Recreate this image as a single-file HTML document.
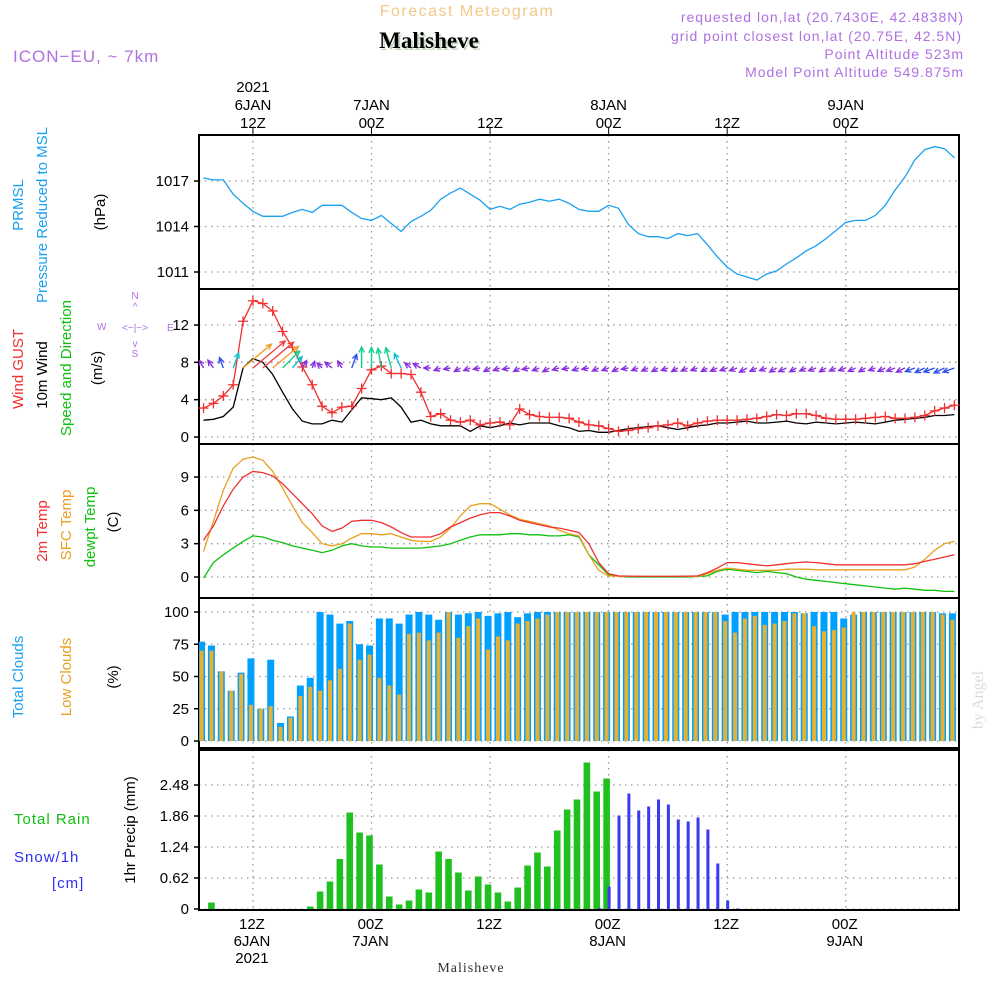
<!DOCTYPE html>
<html><head><meta charset="utf-8"><style>
html,body{margin:0;padding:0;background:#fff;}
svg{display:block;font-family:"Liberation Sans",sans-serif;}
</style></head><body>
<svg id="chart" width="1000" height="1000" viewBox="0 0 1000 1000">
<g>
<text x="467" y="16" text-anchor="middle" font-size="16" fill="#f5c88a" letter-spacing="1.5">Forecast Meteogram</text>
<text x="431" y="50" text-anchor="middle" font-size="23" font-weight="bold" font-family="Liberation Serif,serif" fill="#c8d8c0">Malisheve</text>
<text x="429" y="48" text-anchor="middle" font-size="23" font-weight="bold" font-family="Liberation Serif,serif" fill="#000">Malisheve</text>
<text x="13" y="62" font-size="17" fill="#b070e0" letter-spacing="1">ICON−EU, ~ 7km</text>
<g fill="#b070e0" font-size="14" text-anchor="end" letter-spacing="1">
<text x="964" y="22">requested lon,lat (20.7430E, 42.4838N)</text>
<text x="962" y="41">grid point closest lon,lat (20.75E, 42.5N)</text>
<text x="964" y="59">Point Altitude 523m</text>
<text x="964" y="77">Model Point Altitude 549.875m</text>
</g>
</g>
<g id="axes"></g>
<g id="marks"></g>
<g font-size="15">
<text transform="translate(23,205) rotate(-90)" text-anchor="middle" fill="#1aa0f0">PRMSL</text>
<text transform="translate(47,215) rotate(-90)" text-anchor="middle" fill="#1aa0f0">Pressure Reduced to MSL</text>
<text transform="translate(105,212) rotate(-90)" text-anchor="middle" fill="#000">(hPa)</text>
<text transform="translate(23,369) rotate(-90)" text-anchor="middle" fill="#f03030">Wind GUST</text>
<text transform="translate(47,375) rotate(-90)" text-anchor="middle" fill="#000">10m Wind</text>
<text transform="translate(71,368) rotate(-90)" text-anchor="middle" fill="#10c010">Speed and Direction</text>
<text transform="translate(102,368) rotate(-90)" text-anchor="middle" fill="#000">(m/s)</text>
<text transform="translate(47,531) rotate(-90)" text-anchor="middle" fill="#f03030">2m Temp</text>
<text transform="translate(71,525) rotate(-90)" text-anchor="middle" fill="#e8a020">SFC Temp</text>
<text transform="translate(95,527) rotate(-90)" text-anchor="middle" fill="#10c010">dewpt Temp</text>
<text transform="translate(118,522) rotate(-90)" text-anchor="middle" fill="#000">(C)</text>
<text transform="translate(23,677) rotate(-90)" text-anchor="middle" fill="#1aa0f0">Total Clouds</text>
<text transform="translate(71,677) rotate(-90)" text-anchor="middle" fill="#e8a020">Low Clouds</text>
<text transform="translate(118,677) rotate(-90)" text-anchor="middle" fill="#000">(%)</text>
<text x="14" y="824" fill="#10c010" letter-spacing="1">Total  Rain</text>
<text x="14" y="862" fill="#3030f0" letter-spacing="1">Snow/1h</text>
<text x="52" y="888" fill="#3030f0" letter-spacing="1">[cm]</text>
<text transform="translate(135,830) rotate(-90)" text-anchor="middle" fill="#000">1hr Precip (mm)</text>
<g fill="#b070e0" font-size="10">
<text x="135" y="299" text-anchor="middle">N</text><text x="135" y="310" text-anchor="middle">^</text>
<text x="135" y="331" text-anchor="middle">&lt;−|−&gt;</text>
<text x="97" y="330">W</text><text x="167" y="331">E</text>
<text x="135" y="347" text-anchor="middle">v</text><text x="135" y="357" text-anchor="middle">S</text>
</g>
<text transform="translate(983,700) rotate(-90)" text-anchor="middle" fill="#d8dcd8" font-family="Liberation Serif,serif" font-size="16">by Angel</text>
<text x="471" y="972" text-anchor="middle" font-family="Liberation Serif,serif" font-size="14" fill="#333" letter-spacing="1">Malisheve</text>
</g>
</svg>
<script>
const hours = [];
for (let h = -17; h <= 59; h++) hours.push(h);
const pressure = [1017.2,1017.07,1017.07,1016.13,1015.53,1015.0,1014.67,1014.67,1014.67,1014.93,1015.13,1014.93,1015.4,1015.4,1015.4,1014.93,1014.53,1014.4,1014.73,1014.2,1013.67,1014.33,1014.67,1015.07,1015.8,1016.2,1016.53,1016.13,1015.73,1015.13,1015.33,1015.13,1015.47,1015.6,1015.8,1015.67,1015.8,1015.53,1015.13,1015.0,1015.0,1015.4,1015.2,1014.13,1013.53,1013.33,1013.33,1013.2,1013.53,1013.4,1013.53,1012.8,1012.0,1011.33,1010.87,1010.67,1010.47,1010.87,1011.07,1011.53,1011.93,1012.4,1012.73,1013.2,1013.73,1014.27,1014.4,1014.4,1014.73,1015.4,1016.4,1017.27,1018.4,1019.07,1019.27,1019.13,1018.53];
const gust = [3.1,3.6,4.4,5.6,12.4,14.6,14.3,13.5,11.3,9.6,7.5,5.6,3.3,2.6,3.2,3.3,5.2,7.2,7.6,6.8,6.8,6.7,4.8,2.2,2.5,1.8,1.6,1.8,1.3,1.5,1.6,1.3,3.0,2.4,2.2,2.1,2.1,2.0,1.6,1.3,1.2,0.9,0.6,0.7,0.9,1.0,1.2,1.3,1.5,1.2,1.5,1.7,1.8,1.8,1.8,1.9,2.0,2.2,2.4,2.3,2.5,2.5,2.3,2.0,1.9,1.9,1.9,2.0,2.1,2.2,2.0,2.0,2.1,2.3,2.8,3.1,3.4];
const wind10 = [1.8,1.9,2.2,3.2,7.4,8.4,8.0,6.7,4.8,3.0,1.7,1.4,1.4,1.8,1.6,2.9,4.2,4.1,4.0,4.2,3.2,1.6,1.8,1.4,1.2,1.2,1.2,0.6,1.2,1.0,1.2,1.5,1.3,1.5,1.5,1.5,1.2,1.0,0.6,0.7,0.5,0.5,0.7,0.9,1.0,1.1,1.2,1.0,0.8,1.0,1.2,1.3,1.5,1.5,1.6,1.7,1.5,1.5,1.6,1.7,1.5,1.4,1.6,1.5,1.4,1.5,1.6,1.5,1.4,1.6,1.8,1.9,2.0,2.1,2.3,2.3,2.4];
const windDir = [-30,-35,-20,20,50,50,50,50,45,40,30,20,-45,-50,-30,20,0,0,-10,-15,-25,-50,-60,-90,-110,-100,-120,-110,-100,-120,-110,-100,-120,-100,-110,-120,-105,-100,-110,-100,-115,-110,-120,-100,-110,-115,-120,-110,-120,-115,-110,-120,-115,-110,-110,-120,-115,-110,-120,-115,-120,-115,-110,-120,-115,-110,-115,-120,-110,-115,-110,-115,-110,-115,-110,-115,-110];
const temp2m = [3.3,4.6,6.4,7.9,9.0,9.5,9.4,9.1,8.4,7.5,6.6,5.7,4.6,4.1,4.4,5.0,5.1,5.1,4.9,4.5,4.0,3.6,3.6,3.6,3.9,4.5,4.9,5.3,5.6,5.8,5.8,5.5,5.1,4.9,4.7,4.5,4.4,4.2,4.0,3.0,1.3,0.3,0.1,0.08,0.06,0.05,0.05,0.05,0.06,0.08,0.1,0.4,0.8,1.3,1.3,1.2,1.1,1.0,1.1,1.2,1.3,1.35,1.3,1.2,1.1,1.1,1.1,1.1,1.1,1.1,1.1,1.1,1.2,1.4,1.6,1.8,2.0];
const sfcTemp = [2.3,5.0,7.8,9.8,10.6,10.8,10.5,9.5,8.0,6.4,4.9,4.0,3.0,2.8,3.0,3.5,3.9,3.9,3.8,3.9,3.6,3.3,3.2,3.2,3.6,4.4,5.5,6.4,6.6,6.6,6.1,5.6,5.2,5.0,4.8,4.6,4.2,3.9,3.7,2.0,0.6,0.1,0.05,0.05,0.05,0.05,0.05,0.05,0.05,0.05,0.05,0.3,0.6,0.8,0.7,0.6,0.6,0.6,0.6,0.7,0.7,0.7,0.65,0.65,0.65,0.65,0.65,0.65,0.65,0.65,0.65,0.65,0.9,1.6,2.4,3.0,3.2];
const dewpt = [-0.1,1.3,2.0,2.6,3.2,3.7,3.6,3.3,3.1,2.8,2.6,2.4,2.2,2.4,2.8,3.0,2.8,2.7,2.7,2.6,2.6,2.6,2.6,2.7,2.8,3.0,3.3,3.6,3.8,3.8,3.8,3.9,3.9,3.8,3.8,3.7,3.7,3.8,3.6,2.0,1.1,0.2,0.05,0.0,0.0,0.0,0.0,0.0,0.0,0.0,0.05,0.1,0.5,0.7,0.6,0.5,0.4,0.5,0.4,0.3,0.0,-0.2,-0.3,-0.4,-0.5,-0.6,-0.7,-0.8,-0.9,-1.0,-1.1,-1.0,-1.1,-1.2,-1.2,-1.3,-1.3];
const totalClouds = [77,74,54,39,53,64,25,63,14,19,43,49,100,98,91,93,75,74,95,95,91,98,100,98,94,100,98,99,100,97,99,100,96,99,100,100,100,100,100,100,100,100,100,100,100,100,100,100,100,100,100,100,100,98,100,100,100,100,100,100,100,99,100,100,100,95,98,100,100,100,100,100,100,100,100,99,99];
const lowClouds = [70,70,54,39,52,28,25,27,11,18,35,42,39,47,56,91,63,67,49,43,36,83,84,78,84,100,80,89,95,71,81,78,91,93,95,98,100,100,100,100,100,100,100,100,100,100,100,100,100,100,100,100,100,93,84,95,97,90,91,93,99,99,89,85,86,88,100,100,100,100,100,100,100,100,100,98,94];
const rain = [0,0.13,0,0,0,0,0,0,0,0,0,0.05,0.35,0.55,1.0,1.93,1.53,1.47,0.89,0.25,0.09,0.17,0.39,0.33,1.15,1.0,0.73,0.37,0.65,0.49,0.33,0.15,0.43,0.87,1.13,0.85,1.57,1.99,2.19,2.93,2.35,2.61,0,0,0,0,0,0,0,0,0,0,0,0,0,0,0,0,0,0,0,0,0,0,0,0,0,0,0,0,0,0,0,0,0,0,0];
const snow = [0,0,0,0,0,0,0,0,0,0,0,0,0,0,0,0,0,0,0,0,0,0,0,0,0,0,0,0,0,0,0,0,0,0,0,0,0,0,0,0,0.02,0.45,1.87,2.31,1.97,2.05,2.19,2.09,1.79,1.75,1.83,1.59,0.91,0.17,0.01,0,0,0,0,0,0,0,0,0,0,0,0,0,0,0,0,0,0,0,0,0,0];
const pressTicks = [1011,1014,1017];
const windTicks = [0,4,8,12];
const tempTicks = [0,3,6,9];
const cloudTicks = [0,25,50,75,100];
const precipTicks = [0,0.62,1.24,1.86,2.48];
const timeTickHours = [-12,0,12,24,36,48];
const topTickLabels = [["2021","6JAN","12Z"],["","7JAN","00Z"],["","","12Z"],["","8JAN","00Z"],["","","12Z"],["","9JAN","00Z"]];
const bottomTickLabels = [["12Z","6JAN","2021"],["00Z","7JAN",""],["12Z","",""],["00Z","8JAN",""],["12Z","",""],["00Z","9JAN",""]];

const NS="http://www.w3.org/2000/svg";
const L=199,R=959;
const X=h=>371.5+9.88*h;
function lin(d0,d1,p0,p1){return v=>p0+(v-d0)*(p1-p0)/(d1-d0);}
const panels=[
 {name:'pressure',top:135,bot:289,y:lin(1011,1017,272,181),ticks:pressTicks,fmt:v=>v},
 {name:'wind',top:289,bot:444,y:lin(0,12,437,325),ticks:windTicks,fmt:v=>v},
 {name:'temp',top:444,bot:598,y:lin(0,9,577,477),ticks:tempTicks,fmt:v=>v},
 {name:'clouds',top:598,bot:748,y:lin(0,100,741,612),ticks:cloudTicks,fmt:v=>v},
 {name:'precip',top:750,bot:910,y:lin(0,2.48,909,785),ticks:precipTicks,fmt:v=>v}
];
const axes=document.getElementById('axes'),marks=document.getElementById('marks');
function mk(tag,attrs,parent){const e=document.createElementNS(NS,tag);for(const k in attrs)e.setAttribute(k,attrs[k]);parent.appendChild(e);return e;}

panels.forEach(p=>{
 const g=mk('g',{},axes);
 
 
 timeTickHours.forEach(h=>{
  const l=mk('line',{x1:X(h),x2:X(h),y1:p.top,y2:p.bot,stroke:'#999','stroke-width':1.3,'stroke-dasharray':'1.5,4.5'},g);
  
  
 });
 p.ticks.forEach(v=>{
  const yy=p.y(v);
  const l=mk('line',{x1:L,x2:R,y1:yy,y2:yy,stroke:'#999','stroke-width':1.3,'stroke-dasharray':'1.5,4.5'},g);
  
  
  mk('line',{x1:L-5,x2:L,y1:yy,y2:yy,stroke:'#000','stroke-width':1.5},g);
  const t=mk('text',{x:L-10,y:yy+5,'text-anchor':'end','font-size':15,fill:'#000'},g);
  t.textContent=p.fmt(v);
  
  
 });
 const b=mk('rect',{x:L,y:p.top,width:R-L,height:p.bot-p.top,fill:'none',stroke:'#000','stroke-width':2},g);
 
 
});
timeTickHours.forEach((h,i)=>{
 mk('line',{x1:X(h),x2:X(h),y1:128,y2:135,stroke:'#000'},axes);
 topTickLabels[i].forEach((s,j)=>{ if(!s)return;
  const t=mk('text',{x:X(h),y:92+j*18,'text-anchor':'middle','font-size':15,fill:'#000'},axes);
  t.textContent=s;
  
  
 });
 bottomTickLabels[i].forEach((s,j)=>{ if(!s)return;
  const t=mk('text',{x:X(h)-1,y:929+j*17,'text-anchor':'middle','font-size':15,fill:'#000'},axes);
  t.textContent=s;
  
  
 });
});

function line(arr,p,color,name,w){
 const d=arr.map((v,i)=>(i?'L':'M')+X(hours[i]).toFixed(1)+','+p.y(v).toFixed(1)).join('');
 const e=mk('path',{d:d,fill:'none',stroke:color,'stroke-width':w||1.3},marks);
 
 
 return e;
}
const clip=mk('clipPath',{id:'plotclip'},marks);mk('rect',{x:L,y:0,width:R-L,height:1000},clip);
// pressure
line(pressure,panels[0],'#1aa0f0','pressure-line');
// wind
const pw=panels[1];
line(wind10,pw,'#000','wind-10m-line');
line(gust,pw,'#f03030','wind-gust-line');
gust.forEach((v,i)=>{
 const x=X(hours[i]),y=pw.y(v);
 const m=mk('path',{d:`M${x-5},${y}H${x+5}M${x},${y-5}V${y+5}`,stroke:'#f03030','stroke-width':1.3},marks);
 
 
});
function wcol(s){return s<2?'#8a30e0':s<3?'#3050f0':s<3.8?'#10c0d0':s<5?'#10d090':s<7.6?'#f0a030':'#f04040';}
wind10.forEach((s,i)=>{
 const x0=X(hours[i]),y0=368,len=Math.max(7,5*s),a=windDir[i]*Math.PI/180;
 const x1=x0+len*Math.sin(a),y1=y0-len*Math.cos(a);
 const ha=0.45,hl=6;
 const bx=-Math.sin(a),by=Math.cos(a);
 const p1x=x1+hl*(bx*Math.cos(ha)-by*Math.sin(ha)),p1y=y1+hl*(by*Math.cos(ha)+bx*Math.sin(ha));
 const p2x=x1+hl*(bx*Math.cos(-ha)-by*Math.sin(-ha)),p2y=y1+hl*(by*Math.cos(-ha)+bx*Math.sin(-ha));
 const e=mk('path',{d:`M${x0},${y0}L${x1},${y1}M${p1x},${p1y}L${x1},${y1}L${p2x},${p2y}`,stroke:wcol(s),'stroke-width':1.4,fill:'none','clip-path':'url(#plotclip)'},marks);
 
 
});
// temps
line(dewpt,panels[2],'#10c010','dewpoint-line');
line(sfcTemp,panels[2],'#e8a020','sfc-temp-line');
line(temp2m,panels[2],'#f03030','temp-2m-line');
// clouds
const pc=panels[3];
hours.forEach((h,i)=>{
 const cx=X(h)-2;
 const b=mk('rect',{x:cx-3.5,y:pc.y(totalClouds[i]),width:7,height:pc.y(0)-pc.y(totalClouds[i]),fill:'#00a0ff','clip-path':'url(#plotclip)'},marks);
 
 
 const o=mk('rect',{x:cx-2,y:pc.y(lowClouds[i]),width:4,height:pc.y(0)-pc.y(lowClouds[i]),fill:'#e8b030','clip-path':'url(#plotclip)'},marks);
 
 
});
// precip
const pp=panels[4];
hours.forEach((h,i)=>{
 const cx=X(h)-2;
 if(rain[i]>0){
  const r=mk('rect',{x:cx-3.3,y:pp.y(rain[i]),width:6.6,height:pp.y(0)-pp.y(rain[i]),fill:'#20c020'},marks);
  
  
 }
 if(snow[i]>0){
  const s=mk('rect',{x:cx+1,y:pp.y(snow[i]),width:3,height:pp.y(0)-pp.y(snow[i]),fill:'#3a3af0'},marks);
  
  
 }
});
</script>
</body></html>
